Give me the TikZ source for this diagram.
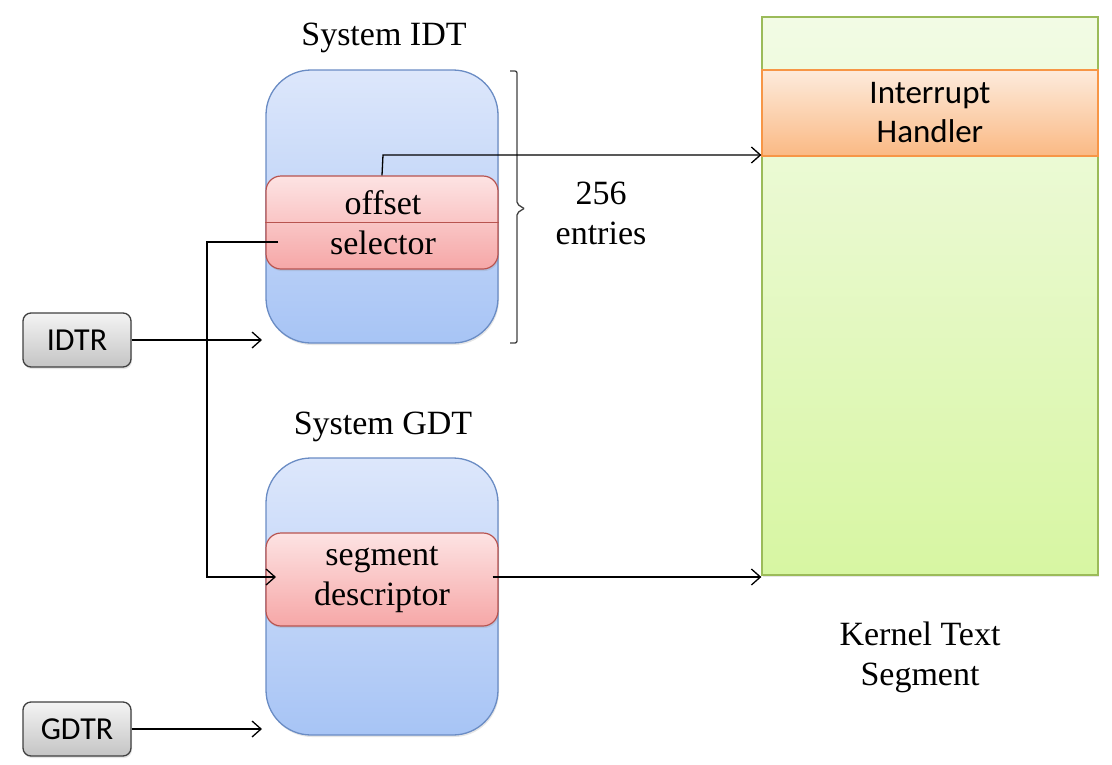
\documentclass[tikz,border=0pt]{standalone}
\usepackage{fontspec}
\setmainfont{Liberation Serif}
\newfontfamily\carlitofont{Carlito}
\usetikzlibrary{arrows.meta,shadows}
\definecolor{bluetop}{HTML}{DDE7FB}
\definecolor{bluebot}{HTML}{A7C4F5}
\definecolor{blueln}{HTML}{6A8CC4}
\definecolor{redtop}{HTML}{FDE3E3}
\definecolor{redbot}{HTML}{F6A7A7}
\definecolor{redln}{HTML}{B85450}
\definecolor{graytop}{HTML}{F4F4F4}
\definecolor{graybot}{HTML}{C4C4C4}
\definecolor{grayln}{HTML}{404040}
\definecolor{greentop}{HTML}{F2FBE5}
\definecolor{greenbot}{HTML}{D7F6A2}
\definecolor{greenln}{HTML}{9BBB59}
\definecolor{orgtop}{HTML}{FDEBDC}
\definecolor{orgbot}{HTML}{FAB984}
\definecolor{orgln}{HTML}{F79646}
\tikzset{
  sh/.style={drop shadow={opacity=0.2,shadow xshift=1pt,shadow yshift=-2pt}},
  table/.style={draw=blueln,line width=1.3pt,top color=bluetop,bottom color=bluebot,rounded corners=45pt,minimum width=232pt,sh},
  entrybox/.style={draw=redln,line width=1.2pt,top color=redtop,bottom color=redbot,rounded corners=15pt,minimum width=232pt,minimum height=93pt,sh},
  reg/.style={draw=grayln,line width=1.3pt,top color=graytop,bottom color=graybot,rounded corners=8pt,minimum width=108pt,minimum height=54pt,font=\carlitofont\fontsize{32}{38}\selectfont,sh},
  serif/.style={font=\fontsize{34}{40}\selectfont,align=center,inner sep=0pt},
  arr/.style={line width=1.3pt,-{Straight Barb[length=9pt,width=16pt,line width=1.3pt]}},
}
\begin{document}
\begin{tikzpicture}[x=1pt,y=-1pt]
\useasboundingbox (0,0) rectangle (1112,764);
% kernel segment
\node[draw=greenln,line width=1.3pt,top color=greentop,bottom color=greenbot,minimum width=336pt,minimum height=558pt,inner sep=0pt,sh] (kern) at (930,296) {};
\node[draw=orgln,line width=1.3pt,top color=orgtop,bottom color=orgbot,minimum width=336pt,minimum height=86pt,align=center,inner sep=0pt,font=\carlitofont\fontsize{33}{39}\selectfont] (ih) at (930,113) {Interrupt\\Handler};
\node[serif] (ktxt) at (920,657) {Kernel Text\\Segment};
% IDT
\node[serif] (idtt) at (384,38) {System IDT};
\node[table,minimum height=273pt] (idt) at (382,206.5) {};
\node[entrybox] (entry) at (382,222.5) {};
\draw[redln,line width=1.2pt] (entry.west) -- (entry.east);
\node[serif] (off) at (383,203) {offset};
\node[serif] (sel) at (383,243) {selector};
% brace
\draw[line width=1.3pt,color=grayln,rounded corners=2pt] (510,71) -- (517,71) -- (517,204) -- (524,208.5) ;
\draw[line width=1.3pt,color=grayln,rounded corners=2pt] (510,343) -- (517,343) -- (517,213) -- (524,208.5);
\node[serif] (cnt) at (601,213) {256\\entries};
% GDT
\node[serif] (gdtt) at (383,427) {System GDT};
\node[table,minimum height=277pt] (gdt) at (382,596.5) {};
\node[entrybox,align=center,font=\fontsize{34}{40}\selectfont,inner sep=0pt] (seg) at (382,579.5) {segment\\descriptor};
% registers
\node[reg] (idtr) at (77,340) {IDTR};
\node[reg] (gdtr) at (77,729) {GDTR};
% connectors
\coordinate (idtin) at (262,340);
\coordinate (gdtin) at (262,729);
\draw[arr] (idtr.east) -- (idtin);
\draw[arr] (gdtr.east) -- (gdtin);
\coordinate (selout) at (278,242);
\coordinate (selbend) at (207,242);
\coordinate (segin) at (276,577);
\draw[arr] (selout) -- (selbend) |- (segin);
\draw[arr] (entry.north) -- (383,155) -- (kern.west |- 0,155);
\draw[arr] ([xshift=-6pt]seg.east |- 0,577) -- (kern.west |- 0,577);
\end{tikzpicture}
\end{document}
